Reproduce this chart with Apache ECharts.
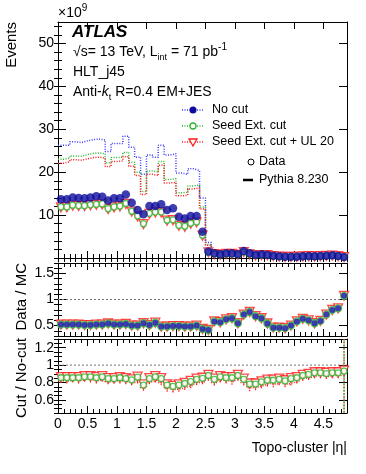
<!DOCTYPE html>
<html>
<head>
<meta charset="utf-8">
<script src="https://cdn.jsdelivr.net/npm/echarts@6/dist/echarts.min.js"></script>
<style>
  html, body { margin: 0; padding: 0; background: #fff; }
  #main { width: 366px; height: 474px; }
</style>
</head>
<body>
<div id="main"></div>
<script>
// bin edges in |eta|
const binEdges = [0, 0.1, 0.2, 0.3, 0.4, 0.5, 0.6, 0.7, 0.8, 0.9, 1.0, 1.1, 1.2, 1.3, 1.4, 1.5, 1.6, 1.7, 1.8, 1.9,
  2.0, 2.1, 2.2, 2.3, 2.4, 2.5, 2.6, 2.7, 2.8, 2.9, 3.0, 3.1, 3.2, 3.3, 3.4, 3.5, 3.6, 3.7, 3.8, 3.9,
  4.0, 4.1, 4.2, 4.3, 4.4, 4.5, 4.6, 4.7, 4.8, 4.9];

// main panel, events x 1e9
const dataNoCut = [13.7, 13.7, 14.1, 14.0, 13.9, 14.1, 14.4, 14.3, 13.4, 13.9,
  13.9, 14.8, 12.9, 11.2, 10.2, 12.1, 12.1, 12.5, 11.2, 11.6,
  9.6, 9.2, 9.8, 9.8, 6.1, 1.5, 1.09, 0.85, 1.09, 1.09,
  0.85, 1.63, 1.09, 0.78, 0.85, 0.78, 0.54, 0.39, 0.31, 0.31,
  0.31, 0.39, 0.47, 0.39, 0.47, 0.54, 0.62, 0.47, 0.23];
const dataSeed = [11.9, 11.9, 12.3, 12.2, 12.2, 12.4, 12.5, 12.6, 11.5, 11.9,
  12.1, 12.7, 10.9, 9.8, 8.0, 10.4, 10.7, 10.7, 8.8, 8.9,
  7.6, 7.4, 8.1, 8.4, 5.3, 1.35, 0.93, 0.75, 0.95, 0.95,
  0.76, 1.40, 0.87, 0.63, 0.70, 0.66, 0.46, 0.34, 0.27, 0.27,
  0.28, 0.36, 0.43, 0.37, 0.44, 0.50, 0.58, 0.44, 0.22];
const dataUL20 = [11.8, 11.8, 12.2, 12.1, 12.1, 12.3, 12.4, 12.5, 11.4, 11.8,
  12.0, 12.6, 10.8, 9.7, 7.9, 10.3, 10.6, 10.6, 8.7, 8.8,
  7.5, 7.3, 8.0, 8.3, 5.2, 1.33, 0.92, 0.74, 0.94, 0.94,
  0.75, 1.38, 0.86, 0.62, 0.69, 0.65, 0.45, 0.33, 0.26, 0.26,
  0.27, 0.35, 0.42, 0.36, 0.43, 0.49, 0.57, 0.43, 0.22];
const mcNoCut = [26.3, 26.3, 27.1, 26.9, 27.3, 27.6, 27.7, 27.5, 24.8, 26.7,
  26.7, 28.4, 25.8, 23.5, 19.5, 24.0, 23.5, 26.3, 24.0, 24.3,
  19.8, 19.5, 20.8, 20.4, 14.0, 3.6, 1.88, 1.50, 1.76, 1.70,
  1.56, 2.30, 1.43, 1.15, 1.33, 1.44, 1.17, 0.85, 0.69, 0.62,
  0.53, 0.62, 0.78, 0.72, 0.80, 0.76, 0.78, 0.57, 0.21];
const mcSeed = [23.0, 23.3, 23.8, 23.7, 24.1, 24.4, 24.5, 24.3, 22.2, 23.4,
  23.5, 24.6, 22.3, 20.0, 15.5, 20.3, 20.0, 22.5, 18.3, 18.5,
  15.2, 15.3, 16.8, 17.0, 11.9, 3.1, 1.62, 1.31, 1.52, 1.46,
  1.37, 1.94, 1.13, 0.91, 1.08, 1.20, 0.97, 0.71, 0.57, 0.53,
  0.46, 0.55, 0.69, 0.66, 0.73, 0.69, 0.71, 0.52, 0.20];
const mcUL20 = [22.1, 22.4, 22.9, 22.8, 23.1, 23.4, 23.5, 23.3, 21.3, 22.5,
  22.6, 23.6, 21.4, 19.2, 14.8, 19.5, 19.2, 21.6, 17.5, 17.6,
  14.5, 14.6, 16.1, 16.3, 11.4, 3.0, 1.55, 1.26, 1.46, 1.40,
  1.32, 1.86, 1.08, 0.87, 1.03, 1.15, 0.93, 0.68, 0.55, 0.51,
  0.44, 0.53, 0.67, 0.64, 0.71, 0.67, 0.69, 0.50, 0.19];

// Data / MC (the three selections overlap)
const ratioDataMC = [0.52, 0.52, 0.52, 0.52, 0.51, 0.51, 0.52, 0.52, 0.54, 0.52,
  0.52, 0.53, 0.50, 0.50, 0.545, 0.51, 0.555, 0.48, 0.48, 0.49,
  0.49, 0.48, 0.48, 0.50, 0.435, 0.415, 0.58, 0.565, 0.62, 0.64,
  0.545, 0.71, 0.76, 0.68, 0.64, 0.54, 0.46, 0.46, 0.45, 0.50,
  0.58, 0.63, 0.60, 0.545, 0.59, 0.71, 0.80, 0.83, 1.07];
const ratioDataMCErr = [0, 0, 0, 0, 0, 0, 0, 0, 0, 0,
  0, 0, 0, 0, 0, 0, 0, 0, 0, 0,
  0, 0, 0, 0, 0, 0, 0, 0, 0, 0,
  0, 0, 0, 0, 0, 0, 0, 0, 0, 0,
  0, 0, 0, 0, 0, 0, 0, 0, 0.07];

// Cut / No-cut
const cutDataUL20 = [0.862, 0.862, 0.862, 0.862, 0.873, 0.873, 0.862, 0.873, 0.851, 0.851,
  0.862, 0.851, 0.837, 0.868, 0.778, 0.851, 0.873, 0.851, 0.778, 0.762,
  0.778, 0.796, 0.818, 0.844, 0.855, 0.888, 0.844, 0.873, 0.862, 0.862,
  0.888, 0.844, 0.789, 0.789, 0.814, 0.833, 0.833, 0.844, 0.826, 0.851,
  0.862, 0.888, 0.900, 0.918, 0.918, 0.910, 0.918, 0.918, 0.937];
const cutDataSeed = [0.855, 0.855, 0.855, 0.855, 0.866, 0.866, 0.855, 0.866, 0.844, 0.844,
  0.855, 0.844, 0.830, 0.861, 0.771, 0.844, 0.866, 0.844, 0.771, 0.755,
  0.771, 0.789, 0.811, 0.837, 0.848, 0.881, 0.837, 0.866, 0.855, 0.855,
  0.881, 0.837, 0.782, 0.782, 0.807, 0.826, 0.826, 0.837, 0.819, 0.844,
  0.855, 0.881, 0.893, 0.911, 0.911, 0.903, 0.911, 0.911, 0.930];
const cutMcSeed = [0.87, 0.87, 0.87, 0.87, 0.88, 0.88, 0.87, 0.88, 0.86, 0.86,
  0.87, 0.86, 0.85, 0.86, 0.79, 0.85, 0.87, 0.85, 0.77, 0.76,
  0.77, 0.79, 0.81, 0.84, 0.85, 0.88, 0.84, 0.87, 0.86, 0.86,
  0.88, 0.84, 0.79, 0.79, 0.81, 0.83, 0.83, 0.84, 0.82, 0.85,
  0.86, 0.88, 0.89, 0.91, 0.91, 0.91, 0.91, 0.91, 0.93];
const cutMcSeedErr = [0.01, 0.01, 0.01, 0.01, 0.01, 0.01, 0.01, 0.01, 0.01, 0.01,
  0.01, 0.01, 0.01, 0.01, 0.015, 0.01, 0.01, 0.01, 0.015, 0.015,
  0.015, 0.015, 0.015, 0.015, 0.015, 0.015, 0.015, 0.015, 0.015, 0.015,
  0.015, 0.015, 0.015, 0.015, 0.015, 0.015, 0.015, 0.015, 0.015, 0.015,
  0.015, 0.015, 0.015, 0.015, 0.015, 0.015, 0.015, 0.015, 1.0];
const cutMcUL20 = [0.82, 0.82, 0.83, 0.82, 0.84, 0.83, 0.82, 0.84, 0.81, 0.82,
  0.82, 0.81, 0.80, 0.82, 0.74, 0.81, 0.83, 0.80, 0.73, 0.72,
  0.73, 0.75, 0.77, 0.80, 0.81, 0.85, 0.80, 0.83, 0.82, 0.81,
  0.85, 0.80, 0.74, 0.75, 0.77, 0.79, 0.78, 0.80, 0.78, 0.80,
  0.82, 0.85, 0.86, 0.88, 0.88, 0.87, 0.88, 0.88, 0.92];
const cutMcUL20Err = [0.025, 0.03, 0.025, 0.03, 0.025, 0.03, 0.03, 0.025, 0.03, 0.03,
  0.03, 0.03, 0.03, 0.03, 0.035, 0.03, 0.03, 0.03, 0.035, 0.035,
  0.035, 0.035, 0.035, 0.03, 0.03, 0.03, 0.035, 0.03, 0.03, 0.035,
  0.03, 0.035, 0.04, 0.04, 0.035, 0.035, 0.035, 0.03, 0.035, 0.035,
  0.03, 0.03, 0.03, 0.03, 0.03, 0.03, 0.03, 0.03, 0.5];

// ticks and labels
const xLabels = [0, 0.5, 1, 1.5, 2, 2.5, 3, 3.5, 4, 4.5];
const yMainLabels = [10, 20, 30, 40, 50];
const yRatioLabels = [0.5, 1, 1.5];
const yCutLabels = [0.6, 0.8, 1, 1.2];

const FONT = "'Liberation Sans', Arial, Helvetica, sans-serif";
const BLUE = "#0c0c9e";
const BLUE_LINE = "#3b3bff";
const GREEN = "#2fb52f";
const RED = "#ff1a1a";

function range(a, b, step) {
  const out = [];
  for (let v = a; v <= b + 1e-9; v += step) out.push(Math.round(v * 1000) / 1000);
  return out;
}

const binCenters = binEdges.slice(0, -1).map((e, i) => (e + binEdges[i + 1]) / 2);

// 4 axes per grid (major + minor, both sides) so the frame has ticks all round
function xAxesFor(g, showLabels) {
  const base = { type: "value", gridIndex: g, min: 0, max: 4.9, splitLine: { show: false } };
  const line = { show: true, onZero: false, lineStyle: { color: "#000", width: 1 } };
  const out = [];
  ["bottom", "top"].forEach((pos, k) => {
    out.push(Object.assign({}, base, {
      position: pos,
      axisLine: line,
      axisTick: { inside: true, length: 7, customValues: xLabels, lineStyle: { color: "#000" } },
      axisLabel: { show: showLabels && k === 0, customValues: xLabels, color: "#000", fontSize: 14, margin: 4, fontFamily: FONT }
    }));
    out.push(Object.assign({}, base, {
      position: pos,
      axisLine: { show: false },
      axisTick: { inside: true, length: 4, customValues: range(0, 4.9, 0.1), lineStyle: { color: "#000" } },
      axisLabel: { show: false }
    }));
  });
  return out;
}

function yAxesFor(g, min, max, labels, minor) {
  const base = { type: "value", gridIndex: g, min: min, max: max, splitLine: { show: false } };
  const line = { show: true, onZero: false, lineStyle: { color: "#000", width: 1 } };
  const out = [];
  ["left", "right"].forEach((pos, k) => {
    out.push(Object.assign({}, base, {
      position: pos,
      axisLine: line,
      axisTick: { inside: true, length: 8, customValues: labels, lineStyle: { color: "#000" } },
      axisLabel: { show: k === 0, customValues: labels, color: "#000", fontSize: 14, margin: 4, fontFamily: FONT }
    }));
    out.push(Object.assign({}, base, {
      position: pos,
      axisLine: { show: false },
      axisTick: { inside: true, length: 4, customValues: minor, lineStyle: { color: "#000" } },
      axisLabel: { show: false }
    }));
  });
  return out;
}

function stepLine(g, vals, color, z) {
  const d = vals.map((v, i) => [binEdges[i], v]);
  d.push([binEdges[binEdges.length - 1], vals[vals.length - 1]]);
  return {
    type: "line", step: "end", xAxisIndex: 4 * g, yAxisIndex: 4 * g, data: d,
    symbol: "none", clip: true, z: z || 2, silent: true,
    lineStyle: { color: color, width: 1.5, type: [1, 1.5] }
  };
}

function markers(g, vals, symbol, size, style, rotate, z) {
  return {
    type: "scatter", xAxisIndex: 4 * g, yAxisIndex: 4 * g,
    data: vals.map((v, i) => [binCenters[i], v]),
    symbol: symbol, symbolSize: size, symbolRotate: rotate || 0,
    itemStyle: style, z: z, clip: true, silent: true
  };
}

function errBars(g, vals, errs, color, dash, z) {
  return {
    type: "custom", xAxisIndex: 4 * g, yAxisIndex: 4 * g, clip: true, z: z || 3, silent: true,
    data: vals.map((v, i) => [binCenters[i], v - errs[i], v + errs[i]]).filter((d, i) => errs[i] > 0),
    encode: { x: 0, y: [1, 2] },
    renderItem: function (params, api) {
      const p1 = api.coord([api.value(0), api.value(1)]);
      const p2 = api.coord([api.value(0), api.value(2)]);
      return {
        type: "line",
        shape: { x1: p1[0], y1: p1[1], x2: p2[0], y2: p2[1] },
        style: { stroke: color, lineWidth: 1.2, lineDash: dash }
      };
    }
  };
}

function unityLine(g) {
  return {
    type: "line", xAxisIndex: 4 * g, yAxisIndex: 4 * g, data: [[0, 1], [4.9, 1]],
    symbol: "none", silent: true, z: 1,
    lineStyle: { color: "#777", width: 1, type: [2, 2] }
  };
}

const openStyle = (c) => ({ color: "#fff", borderColor: c, borderWidth: 1.3 });

const series = [
  // main panel
  stepLine(0, mcNoCut, BLUE_LINE),
  stepLine(0, mcSeed, GREEN),
  stepLine(0, mcUL20, RED),
  markers(0, dataUL20, "triangle", 9, openStyle(RED), 180, 5),
  markers(0, dataSeed, "circle", 6, openStyle(GREEN), 0, 6),
  markers(0, dataNoCut, "circle", 8.5, { color: BLUE }, 0, 7),
  // Data / MC
  unityLine(1),
  errBars(1, ratioDataMC, ratioDataMCErr, RED, null, 4),
  markers(1, ratioDataMC, "triangle", 9, openStyle(RED), 180, 5),
  markers(1, ratioDataMC, "circle", 7, openStyle(GREEN), 0, 6),
  markers(1, ratioDataMC, "circle", 6, { color: BLUE }, 0, 7),
  // Cut / No-cut
  unityLine(2),
  stepLine(2, cutMcUL20, RED),
  errBars(2, cutMcUL20, cutMcUL20Err, RED, [1.5, 1.5], 3),
  stepLine(2, cutMcSeed, GREEN),
  errBars(2, cutMcSeed, cutMcSeedErr, GREEN, [2, 1.5], 3),
  markers(2, cutDataUL20, "triangle", 9, openStyle(RED), 180, 5),
  markers(2, cutDataSeed, "circle", 6, openStyle(GREEN), 0, 6)
];

const txt = (x, y, text, extra) => ({
  type: "text", x: x, y: y, silent: true,
  style: Object.assign({ text: text, font: "14px " + FONT, fill: "#000", textVerticalAlign: "middle" }, extra || {})
});

const richSub = { fontSize: 9, fontFamily: FONT, fill: "#000", verticalAlign: "bottom", lineHeight: 20 };
const richSup = { fontSize: 10, fontFamily: FONT, fill: "#000", verticalAlign: "top", lineHeight: 20 };

const graphic = [
  txt(58, 13, "×10{sup|9}", { rich: { sup: richSup }, lineHeight: 20 }),
  txt(72, 32, "ATLAS", { font: "italic bold 17px " + FONT }),
  txt(73, 52, "√s= 13 TeV, L{sub|int} = 71 pb{sup|-1}", { rich: { sub: richSub, sup: richSup }, lineHeight: 20 }),
  txt(73, 72, "HLT_j45"),
  txt(73, 92, "Anti-{it|k}{sub|t} R=0.4 EM+JES", { rich: { it: { fontStyle: "italic", fontSize: 14, fontFamily: FONT, lineHeight: 20 }, sub: richSub }, lineHeight: 20 }),
  // legend
  { type: "line", silent: true, shape: { x1: 182, y1: 110, x2: 204, y2: 110 }, style: { stroke: BLUE_LINE, lineWidth: 1.5, lineDash: [1, 1.5] } },
  { type: "circle", silent: true, shape: { cx: 193, cy: 110, r: 3.5 }, style: { fill: BLUE } },
  txt(212, 110, "No cut", { font: "12.5px " + FONT }),
  { type: "line", silent: true, shape: { x1: 182, y1: 126, x2: 204, y2: 126 }, style: { stroke: GREEN, lineWidth: 1.5, lineDash: [1, 1.5] } },
  { type: "circle", silent: true, shape: { cx: 193, cy: 126, r: 3 }, style: { fill: "#fff", stroke: GREEN, lineWidth: 1.3 } },
  txt(212, 126, "Seed Ext. cut", { font: "12.5px " + FONT }),
  { type: "line", silent: true, shape: { x1: 182, y1: 142, x2: 204, y2: 142 }, style: { stroke: RED, lineWidth: 1.5, lineDash: [1, 1.5] } },
  { type: "polygon", silent: true, shape: { points: [[189, 139], [197, 139], [193, 146]] }, style: { fill: "#fff", stroke: RED, lineWidth: 1.3 } },
  txt(212, 142, "Seed Ext. cut + UL 20", { font: "12.5px " + FONT }),
  { type: "circle", silent: true, shape: { cx: 251, cy: 162, r: 3 }, style: { fill: "#fff", stroke: "#000", lineWidth: 1 } },
  txt(259, 162, "Data", { font: "12.5px " + FONT }),
  { type: "line", silent: true, shape: { x1: 243, y1: 180, x2: 253, y2: 180 }, style: { stroke: "#000", lineWidth: 2.5 } },
  txt(259, 180, "Pythia 8.230", { font: "12.5px " + FONT }),
  // axis titles
  txt(12, 22, "Events", { textAlign: "right", font: "15px " + FONT }),
  txt(22, 263, "Data / MC", { textAlign: "right", font: "15px " + FONT }),
  txt(22, 338, "Cut / No-cut", { textAlign: "right", font: "15px " + FONT }),
  txt(347, 448, "Topo-cluster |η|", { textAlign: "right", font: "14px " + FONT })
];
// rotate the y titles
graphic.slice(-4, -1).forEach(e => { e.rotation = Math.PI / 2; });

const option = {
  animation: false,
  backgroundColor: "#fff",
  grid: [
    { left: 58, right: 19, top: 22, height: 236, containLabel: false, outerBoundsMode: "none" },
    { left: 58, right: 19, top: 263, height: 73, containLabel: false, outerBoundsMode: "none" },
    { left: 58, right: 19, top: 339, height: 74, containLabel: false, outerBoundsMode: "none" }
  ],
  xAxis: [].concat(xAxesFor(0, false), xAxesFor(1, false), xAxesFor(2, true)),
  yAxis: [].concat(
    yAxesFor(0, 0, 55, [0].concat(yMainLabels), range(0, 54, 2)),
    yAxesFor(1, 0.3, 1.7, yRatioLabels, range(0.3, 1.7, 0.1)),
    yAxesFor(2, 0.45, 1.3, yCutLabels, range(0.45, 1.3, 0.05))
  ),
  series: series,
  graphic: graphic
};
// no "0" label on the main panel
option.yAxis[0].axisLabel.customValues = yMainLabels;

const chart = echarts.init(document.getElementById("main"));
chart.setOption(option);
</script>
</body>
</html>
